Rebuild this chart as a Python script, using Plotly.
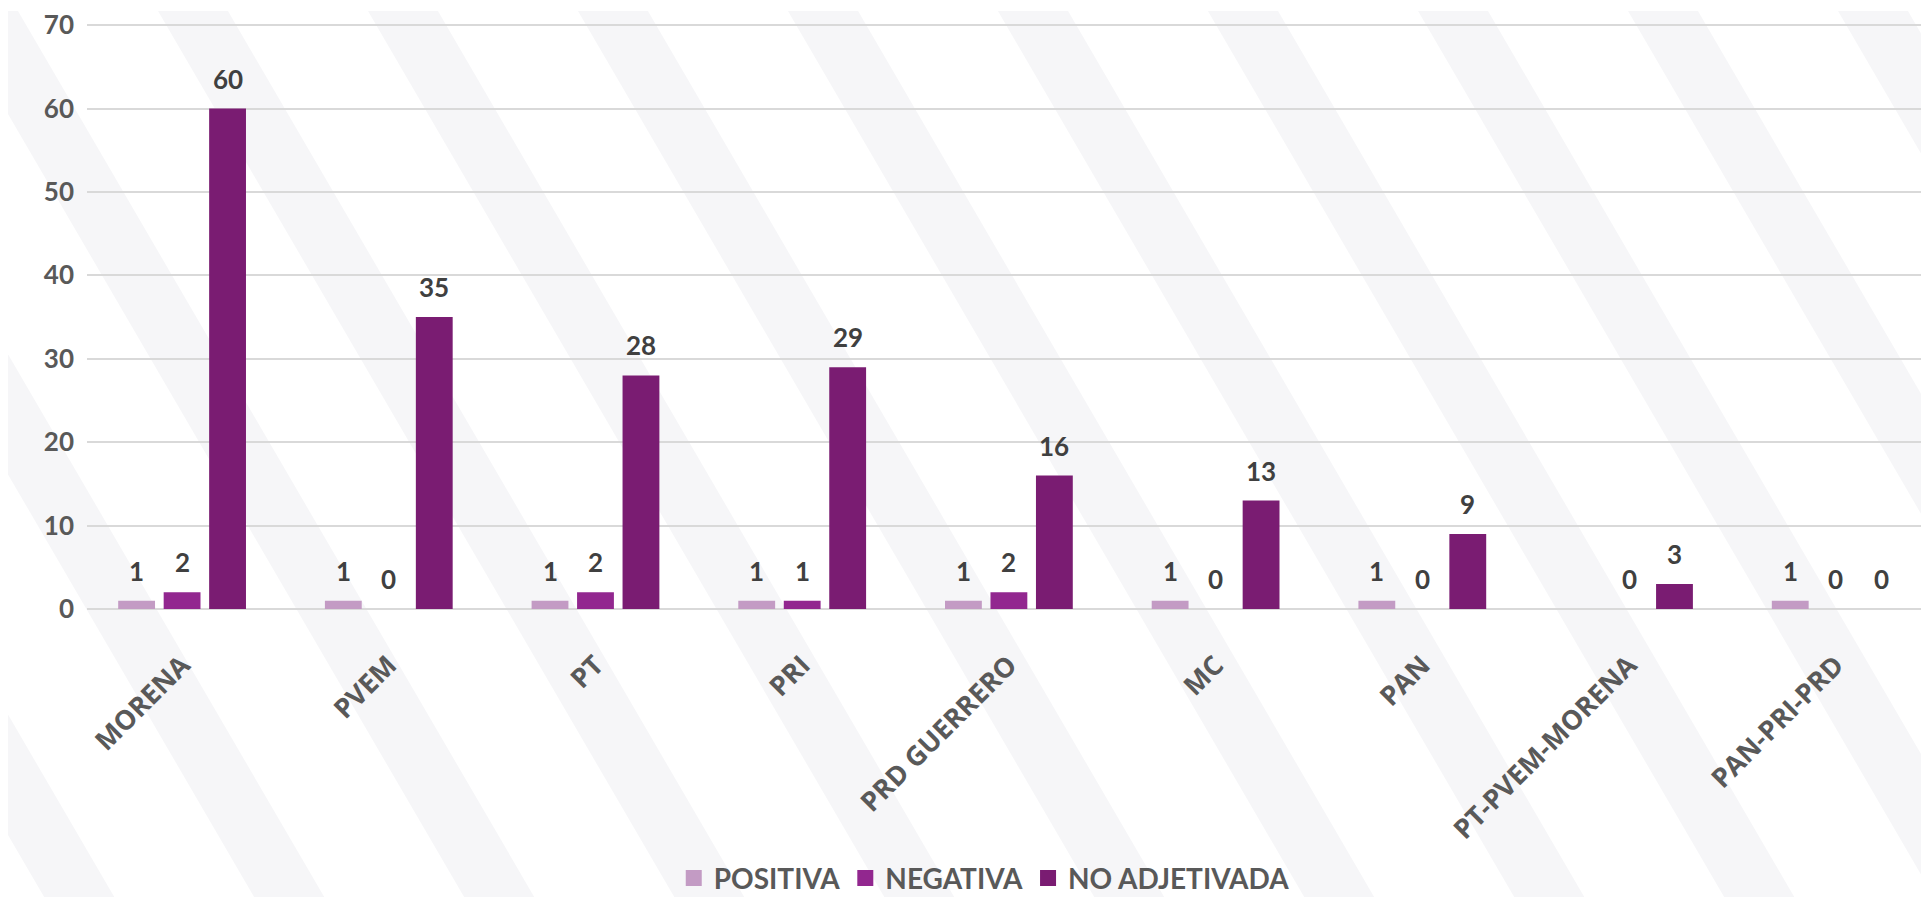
import plotly.graph_objects as go

categories = ["MORENA", "PVEM", "PT", "PRI", "PRD GUERRERO", "MC", "PAN", "PT-PVEM-MORENA", "PAN-PRI-PRD"]
positiva = [1, 1, 1, 1, 1, 1, 1, None, 1]
negativa = [2, 0, 2, 1, 2, 0, 0, 0, 0]
no_adjetivada = [60, 35, 28, 29, 16, 13, 9, 3, 0]
series_names = ["POSITIVA", "NEGATIVA", "NO ADJETIVADA"]
series_colors = ["#C39BC4", "#92278F", "#7A1C72"]
y_ticks = [0, 10, 20, 30, 40, 50, 60, 70]

W, H = 1929, 897
L, R, T, B = 79, 0, 10, 296
pw = W - L - R
ph = H - T - B
BARGAP, BARGROUPGAP = 0.34, 0.19
shift = 0.04
x_range = [-0.5 + shift, 8.45 + shift]

series_values = [positiva, negativa, no_adjetivada]

fig = go.Figure()
for name, vals, col in zip(series_names, series_values, series_colors):
    fig.add_trace(go.Bar(
        x=categories, y=vals, name=name, marker=dict(color=col, line=dict(width=0)),
        showlegend=False, legendgroup=name,
    ))
# legend entries with larger square swatches
for name, col in zip(series_names, series_colors):
    fig.add_trace(go.Scatter(
        x=[None], y=[None], mode="markers", name=name, legendgroup=name,
        marker=dict(symbol="square", size=18, color=col),
    ))

# value labels above bars (offset within the group by one bar slot)
cat_px = pw / (x_range[1] - x_range[0])
slot_px = cat_px * (1 - BARGAP) / len(series_values)
annotations = []
for si, vals in enumerate(series_values):
    for cat, v in zip(categories, vals):
        if v is None:
            continue
        annotations.append(dict(
            x=cat, y=v, xref="x", yref="y", text=str(v), showarrow=False,
            xanchor="center", yanchor="bottom", xshift=(si - 1) * slot_px, yshift=12,
            font=dict(family="Lato", size=26, color="#404040", weight="bold"),
        ))

# decorative light diagonal background bands (pixel coords -> paper coords)
def px2paper(x, y):
    return (x - L) / pw, (H - B - y) / ph

shapes = []
band = 70
for start in range(-900, 2100, 210):
    pts = [(start, 0), (start + band, 0), (start + band + 520, 897), (start + 520, 897)]
    conv = [px2paper(x, y) for x, y in pts]
    path = "M " + " L ".join(f"{a:.4f},{b:.4f}" for a, b in conv) + " Z"
    shapes.append(dict(type="path", xref="paper", yref="paper", path=path,
                       fillcolor="#F6F6F8", line=dict(width=0), layer="below"))

fig.update_layout(
    width=W, height=H,
    margin=dict(l=L, r=R, t=T, b=B),
    paper_bgcolor="white", plot_bgcolor="rgba(0,0,0,0)",
    barmode="group", bargap=BARGAP, bargroupgap=BARGROUPGAP,
    shapes=shapes, annotations=annotations,
    legend=dict(orientation="h", x=0.485, xanchor="center", y=-0.458, yanchor="middle",
                font=dict(family="Lato", size=28, color="#595959", weight="bold"),
                itemwidth=30, traceorder="normal", bgcolor="rgba(0,0,0,0)"),
    xaxis=dict(range=x_range, tickangle=-45, showgrid=False, showline=False,
               ticks="", ticklabelstandoff=34,
               tickfont=dict(family="Open Sans", size=27, color="#595959", weight="bold")),
    yaxis=dict(range=[0, 70.5], tickvals=y_ticks, showgrid=True, gridcolor="#D9D9D9", gridwidth=2,
               zeroline=True, zerolinecolor="#D9D9D9", zerolinewidth=2, showline=False,
               ticks="", ticklabelstandoff=12, ticklabeloverflow="allow",
               tickfont=dict(family="Lato", size=26, color="#595959", weight="bold")),
)

fig.write_html("out.html")
